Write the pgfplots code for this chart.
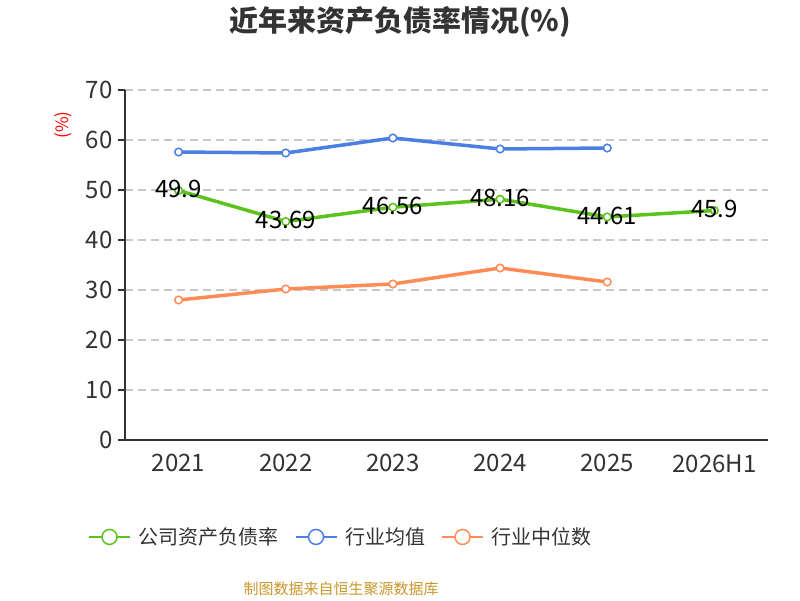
\documentclass[border=0pt]{standalone}
\usepackage{pgfplots}
\pgfplotsset{compat=1.18}
\usepackage{fontspec}
\setmainfont{Noto Sans CJK SC}
\definecolor{cgreen}{HTML}{5CC31E}
\definecolor{cblue}{HTML}{4B7FE3}
\definecolor{corange}{HTML}{FF8C55}
\definecolor{c333}{HTML}{333333}
\definecolor{cgrid}{HTML}{C8C8C8}
\definecolor{csrc}{HTML}{C8962A}
\begin{document}
\begin{tikzpicture}[x=1pt,y=1pt]
\useasboundingbox (0,0) rectangle (800,600);
\node[font=\bfseries\fontsize{29}{34}\selectfont, text=c333] at (400,578) {近年来资产负债率情况(\%)};
\node[font=\fontsize{17}{20}\selectfont, text=red, rotate=90] at (63,475) {(\%)};
\node[font=\fontsize{15}{18}\selectfont, text=csrc] at (341,11) {制图数据来自恒生聚源数据库};
\begin{axis}[
  at={(125pt,160pt)}, anchor=south west, scale only axis,
  width=643pt, height=350pt,
  xmin=-0.5, xmax=5.5, ymin=0, ymax=70,
  axis lines*=left,
  axis line style={c333, line width=2pt},
  xtick={0,...,5},
  xticklabels={2021,2022,2023,2024,2025,2026H1},
  ytick={0,10,...,70},
  extra x ticks={-0.5,0.5,1.5,2.5,3.5,4.5,5.5},
  extra x tick labels={},
  extra x tick style={major tick length=8pt, tick style={c333, line width=1.5pt}},
  tick align=outside,
  x tick style={draw=none},
  y tick style={c333, line width=1.5pt},
  major tick length=7pt,
  ymajorgrids,
  grid style={cgrid, line width=1.5pt, dash pattern=on 8pt off 5pt},
  /pgf/number format/assume math mode=true,
  ticklabel style={font=\fontsize{24}{28}\selectfont, text=c333},
  yticklabel style={xshift=-2pt},
  xticklabel style={yshift=-4pt},
  clip=false,
  legend columns=3,
  legend style={at={(0.336,-0.277)}, anchor=center, draw=none, fill=none,
    font=\fontsize{20}{24}\selectfont, text=c333,
    /tikz/every even column/.append style={column sep=14pt},
    /tikz/every odd column/.append style={column sep=6pt}},
  legend image code/.code={
    \draw[#1, line width=1.5pt] (0pt,0pt) -- (41pt,0pt);
    \draw[#1, line width=1.5pt, fill=white] (20.5pt,0pt) circle (7.5pt);
  },
]
\addplot[cgreen, line width=3.5pt, mark=*, mark size=3.8pt,
  mark options={fill=white, draw=cgreen, line width=1.5pt},
  nodes near coords, point meta=explicit symbolic,
  every node near coord/.append style={anchor=center, yshift=1.5pt, text=black, font=\fontsize{24}{28}\selectfont}]
  coordinates {(0,49.9)[49.9] (1,43.69)[43.69] (2,46.56)[46.56] (3,48.16)[48.16] (4,44.61)[44.61] (5,45.9)[45.9]};
\addlegendentry{公司资产负债率}
\addplot[cblue, line width=3.5pt, mark=*, mark size=3.8pt,
  mark options={fill=white, draw=cblue, line width=1.5pt}]
  coordinates {(0,57.6) (1,57.4) (2,60.4) (3,58.2) (4,58.4)};
\addlegendentry{行业均值}
\addplot[corange, line width=3.5pt, mark=*, mark size=3.8pt,
  mark options={fill=white, draw=corange, line width=1.5pt}]
  coordinates {(0,28.0) (1,30.2) (2,31.2) (3,34.4) (4,31.6)};
\addlegendentry{行业中位数}
\end{axis}
\end{tikzpicture}
\end{document}
